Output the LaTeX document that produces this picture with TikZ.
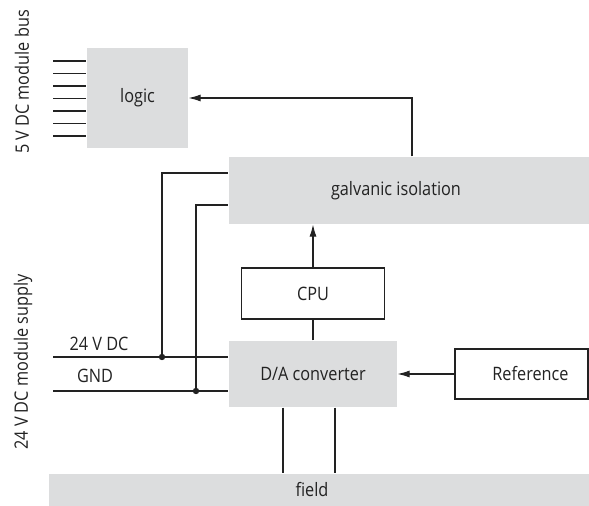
\documentclass[tikz,border=0pt]{standalone}
\usepackage{fontspec}
\setmainfont{Open Sans}[FakeStretch=0.88]
\usetikzlibrary{arrows.meta}
\definecolor{ink}{HTML}{222222}
\definecolor{panel}{HTML}{DCDDDE}

\begin{document}
\begin{tikzpicture}[x=1pt,y=-1pt,font=\fontsize{18.5}{21}\selectfont,text=ink,
  >={Latex[length=12pt,width=7pt]},line width=1.1pt,
  graybox/.style={fill=panel,inner sep=0pt},
  whitebox/.style={draw=ink,fill=white,inner sep=0pt}]
  \useasboundingbox (0,0) rectangle (589,506);
  % blocks
  \node[graybox,minimum width=101pt,minimum height=100pt] (logic) at (137.5,98) {logic};
  \node[graybox,minimum width=360pt,minimum height=67pt,
        label={[xshift=-13pt]center:galvanic isolation}] (galv) at (409,190.5) {};
  \node[whitebox,minimum width=143pt,minimum height=51pt] (cpu) at (313,293.5) {CPU};
  \node[graybox,minimum width=168pt,minimum height=66pt] (da) at (313,374) {D/A converter};
  \node[whitebox,minimum width=133pt,minimum height=50pt,
        label={[xshift=9pt]center:Reference}] (ref) at (521.5,374) {};
  \node[graybox,minimum width=540pt,minimum height=32pt,
        label={[xshift=-7pt]center:field}] (field) at (319,490) {};
  % side labels
  \node[rotate=90] (buslbl) at (22,82) {5 V DC module bus};
  \node[rotate=90] (suplbl) at (23,362) {24 V DC module supply};
  \node (lbl24) at (99,344) {24 V DC};
  \node (lblgnd) at (95,376) {GND};
  % module bus
  \foreach \y in {61,73.5,...,136}
    \draw[ink] (53,\y) -- (logic.west |- 0,\y);
  \draw[ink,->] ([xshift=3pt]galv.north) |- (logic.east);
  \draw[ink,->] (cpu.north) -- (cpu.north |- galv.south);
  \draw[ink] (da.north) -- (cpu.south);
  \draw[ink,->] (ref.west) -- (da.east);
  % supply
  \coordinate (in24) at (53,357);
  \coordinate (ingnd) at (53,391);
  \coordinate (j24) at (162,357);
  \coordinate (jgnd) at (196,391);
  \draw[ink] (in24) -- (in24 -| da.west);
  \draw[ink] (ingnd) -- (ingnd -| da.west);
  \draw[ink] (j24) |- (galv.west |- 0,173);
  \draw[ink] (jgnd) |- (galv.west |- 0,205);
  \fill[ink] (j24) circle (3.2) (jgnd) circle (3.2);
  % field
  \draw[ink] (da.south -| 283,0) -- (field.north -| 283,0);
  \draw[ink] (da.south -| 335,0) -- (field.north -| 335,0);
\end{tikzpicture}
\end{document}
